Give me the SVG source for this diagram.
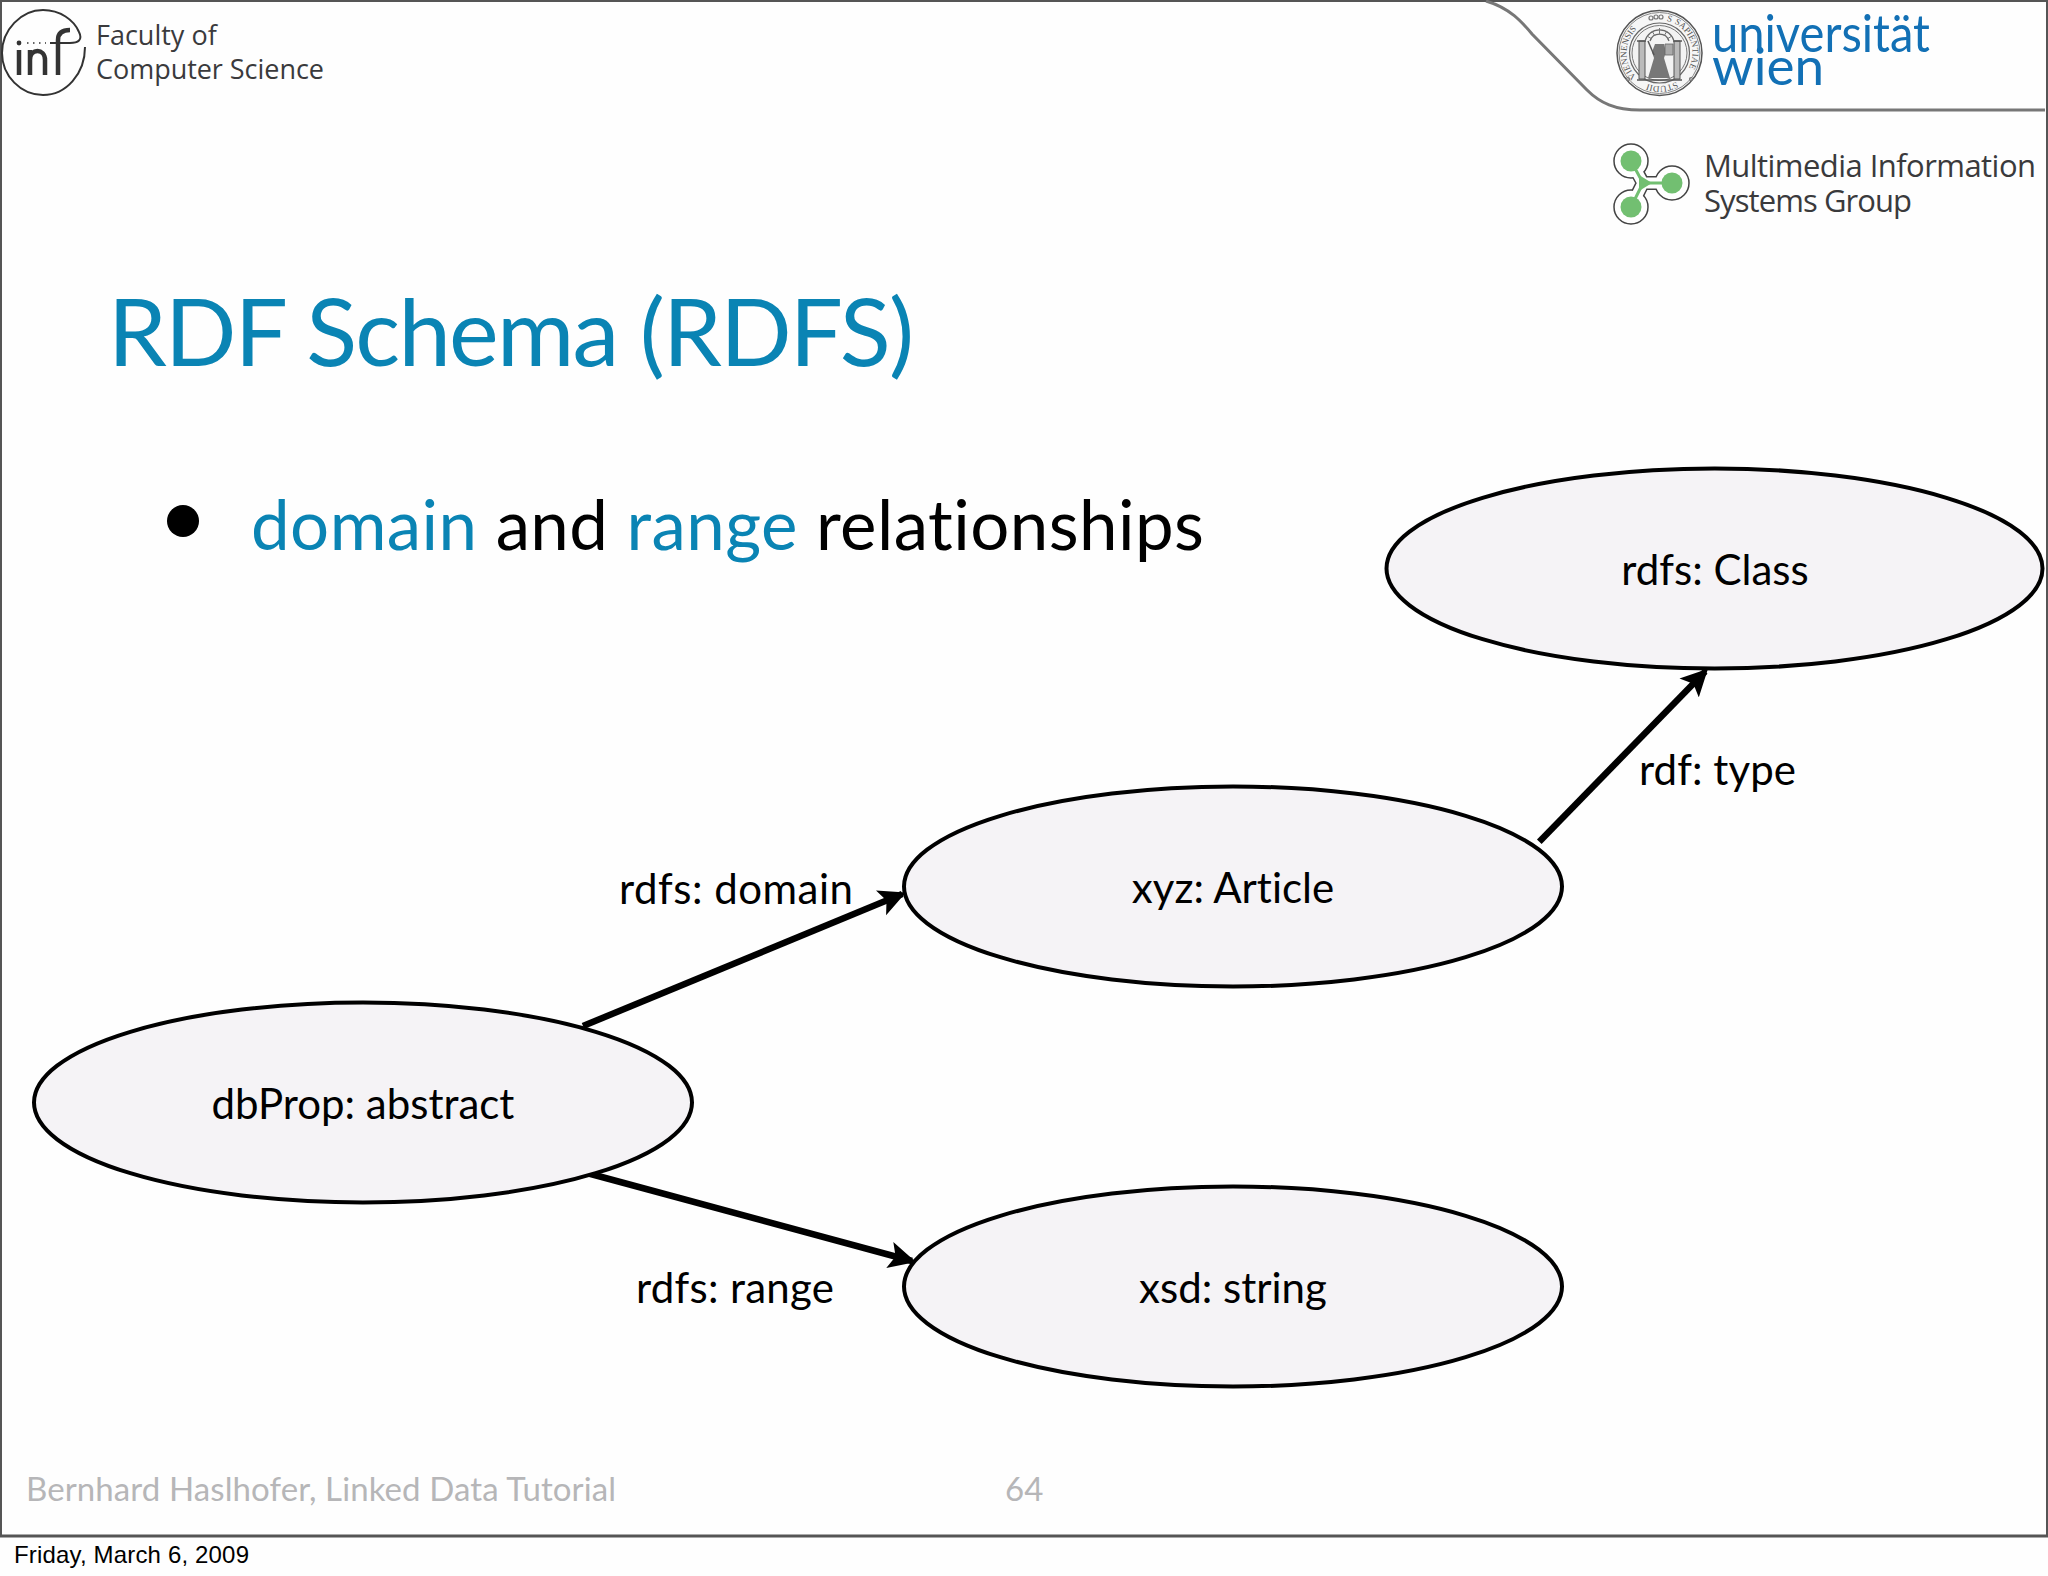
<svg xmlns="http://www.w3.org/2000/svg" width="2048" height="1576" viewBox="0 0 2048 1576">
<style>
text{font-variant-ligatures:none}
.node{fill:#f5f3f6;stroke:#000;stroke-width:4}
.lbl{font-family:"Lato","Liberation Sans",sans-serif;font-size:42px;fill:#000}
.mid{text-anchor:middle}
.edge{fill:none;stroke:#000;stroke-width:6.500;marker-end:url(#a)}
.blue{fill:#0a84b4}
.hdr{font-family:"Open Sans","Noto Sans",sans-serif;fill:#3a3a3c}
.foot{font-family:"Lato","Liberation Sans",sans-serif;font-size:33px;fill:#b6b6b8}
.uw{font-family:"Lato","Liberation Sans",sans-serif;font-size:53px;fill:#1270b5}
.seal{font-family:"Liberation Serif",serif;font-size:9px;fill:#555}
</style>
<defs>
<marker id="a" markerUnits="userSpaceOnUse" markerWidth="27" markerHeight="28" refX="23" refY="14" orient="auto" viewBox="0 0 27 28"><path d="M0 0.500L27 14L0 27.500L6 14Z" fill="#000"/></marker>
<path id="sealp" d="M1688.100 69.500A33 33 0 0 1 1630.900 36.500A33 33 0 0 1 1688.100 69.500"/>
</defs>
<rect width="2048" height="1576" fill="#fefefe"/>
<g id="frame" fill="none" stroke="#555" stroke-width="2">
<path d="M0 1536H2048" stroke-width="3"/><path d="M1 1536V1H2048"/><path d="M2047 1V1536"/>
</g>
<g id="logo-inf">
<path d="M85 47C85 74 66 95 43 95C21 95 2 76 2 53C2 30 21 10 43 10C60 10 74 20 79 32C83 40 78 43 70 43H50" fill="none" stroke="#333" stroke-width="2"/>
<path d="M19 50V75M30 75V50M30 60C30 48 45 48 45 60V75M58 75V40C58 33 62 30 70 30" fill="none" stroke="#333" stroke-width="4.500"/>
<circle cx="19" cy="43" r="2.400" fill="#333"/>
<path d="M27 43H46" stroke="#333" stroke-width="1.400" stroke-dasharray="1.500 4.500"/>
<text class="hdr" x="96" y="45" font-size="27">Faculty of</text>
<text class="hdr" x="96" y="79" font-size="27" textLength="228">Computer Science</text>
</g>
<path id="swoosh" d="M1486 1C1510 8 1522 22 1532 34L1587 90C1600 103 1615 110 1640 110H2045" fill="none" stroke="#777" stroke-width="3"/>
<g id="logo-uw">
<circle cx="1659.500" cy="53" r="42.500" fill="#f6f6f6" stroke="#555" stroke-width="1.500"/>
<circle cx="1659.500" cy="53" r="40.500" fill="none" stroke="#888" stroke-width="1"/>
<circle cx="1659.500" cy="53" r="30" fill="#f3f3f3" stroke="#666" stroke-width="1.200"/>
<circle cx="1659.500" cy="53" r="27.500" fill="none" stroke="#777" stroke-width="1"/>
<text class="seal"><textPath href="#sealp" startOffset="8.300%">STUDII</textPath></text>
<text class="seal"><textPath href="#sealp" startOffset="29%">VIENNENSIS</textPath></text>
<text class="seal"><textPath href="#sealp" startOffset="70%">S</textPath></text>
<text class="seal"><textPath href="#sealp" startOffset="74%">SAPIENTIAE</textPath></text>
<g fill="none" stroke="#777" stroke-width="1.200"><circle cx="1651" cy="18" r="2"/><circle cx="1656" cy="17" r="2"/><circle cx="1661" cy="17" r="2"/><circle cx="1628" cy="79" r="1.500"/><circle cx="1691" cy="79" r="1.500"/></g>
<path d="M1639 41h6v38h-6zM1674 41h6v38h-6z" fill="#bbb" stroke="#555"/>
<path d="M1637 80h45M1637 41h9M1673 41h9" stroke="#555" stroke-width="1.500"/>
<path d="M1645 41a15 15 0 0 1 29 0M1650 41a10 10 0 0 1 19 0" fill="none" stroke="#666" stroke-width="1.200"/>
<path d="M1659.500 28v6M1652 31l3 5M1667 31l-3 5M1647 36l5 3M1672 36l-5 3" stroke="#777" stroke-width="1"/>
<path d="M1655 44h9l2 8-2 6 6 20h-22l6-20-2-6z" fill="#777"/>
<path d="M1665 44h8v11h-8z" fill="#aaa" stroke="#666" stroke-width="0.800"/>
<path d="M1648 41l6 14" stroke="#555" stroke-width="1.500"/>
<text class="uw" x="1712" y="52" textLength="218" lengthAdjust="spacingAndGlyphs">universität</text>
<text class="uw" x="1712" y="85" textLength="112" lengthAdjust="spacingAndGlyphs">wien</text>
</g>
<g id="logo-mis">
<path d="M1631 161L1643 183L1631 207M1643 183H1672" fill="none" stroke="#444" stroke-width="14"/>
<g fill="#fff" stroke="#444" stroke-width="1.500"><circle cx="1631" cy="161" r="17"/><circle cx="1672" cy="183" r="17"/><circle cx="1631" cy="207" r="17"/></g>
<path d="M1631 161L1643 183L1631 207M1643 183H1672" fill="none" stroke="#fff" stroke-width="11"/>
<path d="M1631 161L1643 183L1631 207M1643 183H1672" fill="none" stroke="#72bf71" stroke-width="3"/>
<g fill="#72bf71"><circle cx="1631" cy="161" r="10.500"/><circle cx="1672" cy="183" r="10.500"/><circle cx="1631" cy="207" r="10.500"/><path d="M1639 175L1652 183L1639 191Z"/></g>
<text class="hdr" x="1704" y="177" font-size="31" textLength="332">Multimedia Information</text>
<text class="hdr" x="1704" y="212" font-size="31" textLength="208">Systems Group</text>
</g>
<text id="title" class="blue" x="108" y="366" font-family="Lato,Liberation Sans,sans-serif" font-size="94" textLength="806">RDF Schema (RDFS)</text>
<g id="bullet" font-family="Lato,Liberation Sans,sans-serif" font-size="69">
<circle cx="183" cy="521" r="16" fill="#000"/>
<text x="251" y="550" textLength="953"><tspan class="blue">domain</tspan> and <tspan class="blue">range</tspan> relationships</text>
</g>
<g id="connectors">
<path class="edge" d="M583 1026L902.200 894.100"/>
<path class="edge" d="M587 1173L912 1261"/>
<path class="edge" d="M1539.300 841.700L1705.200 671.500"/>
</g>
<g id="class-node"><ellipse class="node" cx="1714.500" cy="568.500" rx="328" ry="100"/><text class="lbl mid" x="1715" y="585">rdfs: Class</text></g>
<g id="article-node"><ellipse class="node" cx="1233" cy="886.500" rx="329" ry="100"/><text class="lbl mid" x="1233" y="903">xyz: Article</text></g>
<g id="abstract-node"><ellipse class="node" cx="363" cy="1102.500" rx="329" ry="100"/><text class="lbl mid" x="363" y="1119">dbProp: abstract</text></g>
<g id="string-node"><ellipse class="node" cx="1233" cy="1286.500" rx="329" ry="100"/><text class="lbl mid" x="1233" y="1303">xsd: string</text></g>
<g id="edge-labels">
<text class="lbl" x="619" y="904" textLength="234">rdfs: domain</text>
<text class="lbl" x="636" y="1303" textLength="198">rdfs: range</text>
<text class="lbl" x="1639" y="785" textLength="157">rdf: type</text>
</g>
<g id="footer">
<text class="foot" x="26" y="1501" textLength="590">Bernhard Haslhofer, Linked Data Tutorial</text>
<text class="foot" x="1005" y="1501">64</text>
<text x="14" y="1563" font-family="Liberation Sans,sans-serif" font-size="24" textLength="235" fill="#000">Friday, March 6, 2009</text>
</g>
</svg>
